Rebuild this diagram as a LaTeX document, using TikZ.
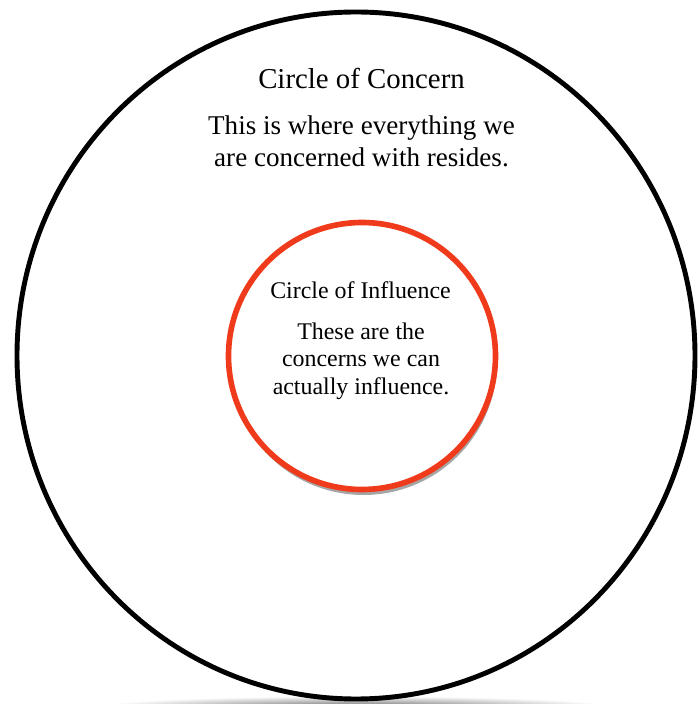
\documentclass[tikz,border=0pt]{standalone}
\usepackage{fontspec}
\setmainfont{Liberation Serif}
\usepackage{xcolor}
\usepackage{tikz}
\usetikzlibrary{shadows,shapes.geometric}
\definecolor{influencered}{HTML}{F03A1C}

\begin{document}
\begin{tikzpicture}[font=\fontsize{15.4}{18.2}\selectfont]
\useasboundingbox (0,0) rectangle (13.96,14.08);
% soft ground shadow under the big circle
\shade[inner color=black!60, outer color=white] (7.12,-0.06) ellipse (5.2 and 0.22);
% circle of concern
\node[ellipse, draw=black, line width=2.8pt, fill=white, minimum width=13.56cm, minimum height=13.74cm] (coc) at (7.12,6.97) {};
\node[font=\fontsize{16.4}{19}\selectfont] (cochead) at (7.23,12.52) {Circle of Concern};
\node[align=center, font=\fontsize{15.4}{18.3}\selectfont] (cocbody) at (7.23,11.26)
  {This is where everything we\\are concerned with resides.};
% circle of influence
\node[circle, draw=influencered, line width=3.2pt, fill=white, minimum size=5.34cm,
  drop shadow={shadow xshift=0.03cm, shadow yshift=-0.11cm, opacity=0.35, fill=black}] (coi) at (7.24,6.96) {};
\node[font=\fontsize{13.6}{16}\selectfont] (coihead) at (7.21,8.28) {Circle of Influence};
\node[align=center, font=\fontsize{13.6}{15.6}\selectfont] (coibody) at (7.22,6.86)
  {These are the\\concerns we can\\actually influence.};
\end{tikzpicture}
\end{document}
